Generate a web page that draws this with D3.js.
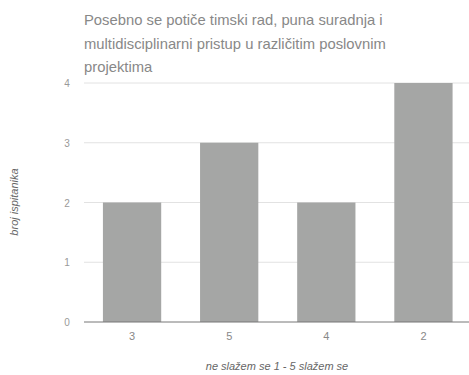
<!DOCTYPE html>
<html><head><meta charset="utf-8">
<script src="https://cdn.jsdelivr.net/npm/d3@7"></script>
<style>body{margin:0;background:#fff}svg{display:block}</style>
</head><body>
<script>
const categories = ["3", "5", "4", "2"];
const values = [2, 3, 2, 4];
const yTicks = [0, 1, 2, 3, 4];
const titleLines = ["Posebno se potiče timski rad, puna suradnja i", "multidisciplinarni pristup u različitim poslovnim", "projektima"];
const xTitle = "ne slažem se 1 - 5 slažem se";
const yTitle = "broj ispitanika";

const W = 469, H = 375;
const svg = d3.select("body").append("svg").attr("width", W).attr("height", H);
const x = d3.scaleBand().domain(categories).range([83.5, 472]).paddingInner(0.4).paddingOuter(0.2);
const y = d3.scaleLinear().domain([0, 4]).range([322, 83]);

svg.append("g").selectAll("line").data(yTicks.filter(d => d > 0)).join("line")
  .attr("x1", 84).attr("x2", 469).attr("y1", d => y(d)).attr("y2", d => y(d))
  .attr("stroke", "#e2e2e2").attr("stroke-width", 1);

svg.append("g").selectAll("rect").data(values).join("rect")
  .attr("x", (d, i) => x(categories[i])).attr("width", x.bandwidth())
  .attr("y", d => y(d)).attr("height", d => y(0) - y(d))
  .attr("fill", "#a5a6a5");

svg.append("line").attr("x1", 84).attr("x2", 469).attr("y1", y(0)).attr("y2", y(0))
  .attr("stroke", "#777").attr("stroke-width", 1);

svg.append("g").selectAll("text").data(yTicks).join("text")
  .attr("x", 67).attr("y", d => y(d) + 4).attr("text-anchor", "middle")
  .attr("font-family", "Liberation Sans, Arial, sans-serif").attr("font-size", 10).attr("fill", "#999")
  .text(d => d);

svg.append("g").selectAll("text").data(categories).join("text")
  .attr("x", d => x(d) + x.bandwidth() / 2).attr("y", 340).attr("text-anchor", "middle")
  .attr("font-family", "Liberation Sans, Arial, sans-serif").attr("font-size", 11).attr("fill", "#888")
  .text(d => d);

svg.append("g").selectAll("text").data(titleLines).join("text")
  .attr("x", 84).attr("y", (d, i) => 25 + i * 23.5)
  .attr("font-family", "Liberation Sans, Arial, sans-serif").attr("font-size", 14.8).attr("fill", "#888")
  .text(d => d);

svg.append("text").attr("x", 277).attr("y", 370).attr("text-anchor", "middle")
  .attr("font-family", "Liberation Sans, Arial, sans-serif").attr("font-size", 11).attr("font-style", "italic").attr("fill", "#666")
  .text(xTitle);

svg.append("text").attr("transform", "translate(18,202) rotate(-90)").attr("text-anchor", "middle")
  .attr("font-family", "Liberation Sans, Arial, sans-serif").attr("font-size", 11).attr("font-style", "italic").attr("fill", "#666")
  .text(yTitle);
</script>
</body></html>
